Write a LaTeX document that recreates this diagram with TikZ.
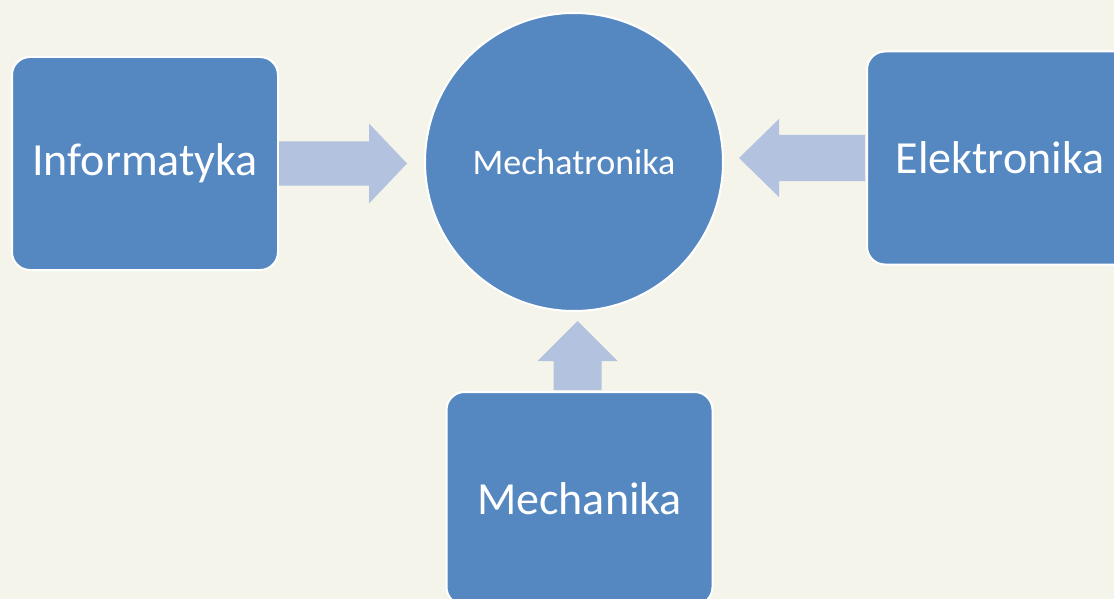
\documentclass[tikz,border=0pt]{standalone}
\usepackage{fontspec}
\setmainfont{Carlito}
\usetikzlibrary{calc}

\definecolor{paper}{HTML}{F4F4EA}
\definecolor{boxblue}{HTML}{5588C1}
\definecolor{arrowblue}{HTML}{B3C3DF}

\tikzset{
    field/.style={draw=white, line width=2pt, fill=boxblue, rounded corners=18pt,
        minimum width=266, minimum height=213, text=white,
        font=\fontsize{46}{55}\selectfont},
    core/.style={draw=white, line width=2pt, fill=boxblue, circle, minimum size=298,
        text=white, font=\fontsize{36}{43}\selectfont},
    arrowfill/.style={fill=arrowblue}
}

\begin{document}
\begin{tikzpicture}[x=1pt,y=-1pt]
    \useasboundingbox (0,0) rectangle (1114,599);
    \clip (0,0) rectangle (1114,599);
    \fill[paper] (0,0) rectangle (1114,599);

    \node[field] (info) at (145,163.5) {Informatyka};
    \node[field] (elek) at (1000,158) {Elektronika};
    \node[field] (mech) at (579.5,498.5) {Mechanika};
    \node[core] (mecha) at (574,162) {Mechatronika};

    % block arrows into the circle
    \fill[arrowfill] ($(info.east)+(0,-22)$) -- ++(90,0) -- ++(0,-18) -- ++(38,40)
        -- ++(-38,40) -- ++(0,-18) -- ++(-90,0) -- cycle;
    \fill[arrowfill] ($(elek.west)+(-1,-23)$) -- ++(-86,0) -- ++(0,-16) -- ++(-40,39)
        -- ++(40,39) -- ++(0,-16) -- ++(86,0) -- cycle;
    \fill[arrowfill] ($(mech.north)+(-26,-1)$) -- ++(0,-29) -- ++(-16,0) -- ++(40,-40)
        -- ++(40,40) -- ++(-16,0) -- ++(0,29) -- cycle;

\end{tikzpicture}
\end{document}
